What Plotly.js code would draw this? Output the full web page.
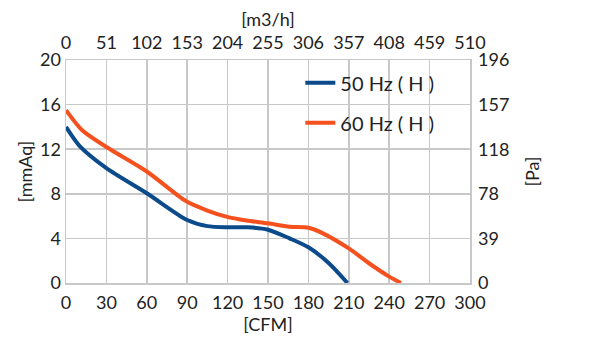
<!DOCTYPE html>
<html><head><meta charset="utf-8">
<script src="https://cdn.plot.ly/plotly-3.0.1.min.js"></script>
<style>html,body{margin:0;padding:0;background:#fff}#c{width:589px;height:363px}</style>
</head><body><div id="c"></div>
<script>
const cfm50 = [0, 10, 30, 60, 90, 105, 120, 135, 150, 166, 180, 195, 209];
const mmaq50 = [14.0, 12.3, 10.3, 8.05, 5.65, 5.1, 5.0, 5.0, 4.78, 4.0, 3.2, 1.8, 0];
const cfm60 = [0, 12, 30, 60, 89, 105, 119, 134, 150, 166, 180, 190, 210, 225, 240, 248.7];
const mmaq60 = [15.5, 13.7, 12.2, 10.0, 7.35, 6.5, 5.95, 5.6, 5.35, 5.05, 4.95, 4.5, 3.1, 1.77, 0.57, 0];
const names = ["50 Hz ( H )", "60 Hz ( H )"];
const colors = ["#0b4a8b", "#f4511e"];
const bottomTicks = [0, 30, 60, 90, 120, 150, 180, 210, 240, 270, 300];
const topTicks = [0, 51, 102, 153, 204, 255, 306, 357, 408, 459, 510];
const leftTicks = [0, 4, 8, 12, 16, 20];
const rightTickText = ["0", "39", "78", "118", "157", "196"];

const font = {family: "Lato, 'Open Sans', sans-serif", size: 18, color: "#222"};
const grid = "#c8c8c8";
const traces = [
  {x: cfm50, y: mmaq50, name: names[0], legendgroup: "a", mode: "lines", line: {color: colors[0], width: 4, shape: "spline", smoothing: 0.8}},
  {x: cfm60, y: mmaq60, name: names[1], legendgroup: "b", mode: "lines", line: {color: colors[1], width: 4, shape: "spline", smoothing: 0.8}},
  {x: [], y: [], xaxis: "x2", yaxis: "y2", showlegend: false, hoverinfo: "skip"}
];
const layout = {
  width: 589, height: 363,
  margin: {l: 66, r: 119, t: 60, b: 80},
  paper_bgcolor: "#fff", plot_bgcolor: "#fff",
  font: font,
  showlegend: true,
  legend: {x: 0.58, y: 0.985, xanchor: "left", yanchor: "top", bgcolor: "rgba(0,0,0,0)",
    font: {size: 20}, traceorder: "grouped", tracegroupgap: 11},
  xaxis: {range: [0, 300], tickvals: bottomTicks, showgrid: true, gridcolor: grid, gridwidth: 1.5,
    showline: true, linecolor: grid, linewidth: 1.5, mirror: false, zeroline: false, ticks: "",
    ticklabelstandoff: 3,
    title: {text: "[CFM]", standoff: 6, font: {size: 18}}},
  yaxis: {range: [0, 20], tickvals: leftTicks, showgrid: true, gridcolor: grid, gridwidth: 1.5,
    showline: true, linecolor: grid, linewidth: 1.5, zeroline: false, ticks: "",
    title: {text: "[mmAq]", standoff: 2, font: {size: 18}}},
  xaxis2: {overlaying: "x", side: "top", range: [0, 510], tickvals: topTicks, showgrid: false,
    showline: true, linecolor: grid, linewidth: 1.5, zeroline: false, ticks: "",
    ticklabelstandoff: 2,
    title: {text: "[m3/h]", standoff: 0, font: {size: 18}}},
  yaxis2: {overlaying: "y", side: "right", range: [0, 20], tickvals: leftTicks, ticktext: rightTickText, showgrid: false,
    showline: true, linecolor: grid, linewidth: 1.5, zeroline: false, ticks: "",
    ticklabelstandoff: 3,
    title: {text: "[Pa]", standoff: 18, font: {size: 18}}}
};
Plotly.newPlot("c", traces, layout, {staticPlot: true});
</script></body></html>
